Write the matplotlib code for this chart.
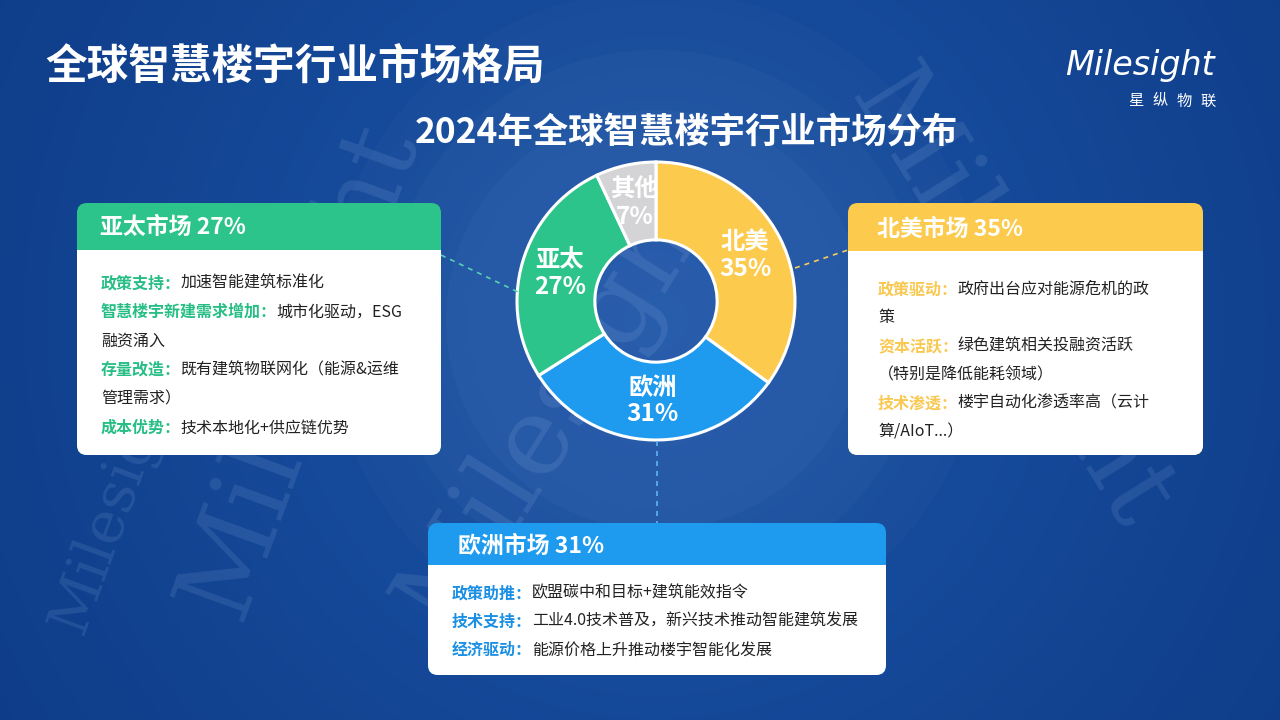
import matplotlib
matplotlib.use('Agg')
import matplotlib.pyplot as plt
from matplotlib.patches import FancyBboxPatch, Rectangle, Circle
import numpy as np

plt.rcParams['font.family'] = ['Noto Sans CJK SC', 'DejaVu Sans']

# ---- data ----
title = '全球智慧楼宇行业市场格局'
subtitle = '2024年全球智慧楼宇行业市场分布'
regions = ['北美', '欧洲', '亚太', '其他']
shares = [35, 31, 27, 7]
colors = ['#FCCA4C', '#1E9BEF', '#2DC48C', '#D4D4D6']

apac_title = '亚太市场 27%'
apac_lines = [('政策支持：', '加速智能建筑标准化'),
              ('智慧楼宇新建需求增加：', '城市化驱动，ESG'),
              ('', '融资涌入'),
              ('存量改造：', '既有建筑物联网化（能源&运维'),
              ('', '管理需求）'),
              ('成本优势：', '技术本地化+供应链优势')]

na_title = '北美市场 35%'
na_lines = [('政策驱动：', '政府出台应对能源危机的政'),
            ('', '策'),
            ('资本活跃：', '绿色建筑相关投融资活跃'),
            ('', '（特别是降低能耗领域）'),
            ('技术渗透：', '楼宇自动化渗透率高（云计'),
            ('', '算/AIoT...）')]

eu_title = '欧洲市场 31%'
eu_lines = [('政策助推：', '欧盟碳中和目标+建筑能效指令'),
            ('技术支持：', '工业4.0技术普及，新兴技术推动智能建筑发展'),
            ('经济驱动：', '能源价格上升推动楼宇智能化发展')]

W, H = 1280, 720


def Y(y):
    # convert screen y (top-down) to axes y
    return H - y


fig = plt.figure(figsize=(12.8, 7.2), dpi=100)
ax = fig.add_axes([0, 0, 1, 1])

# background: radial blue gradient
yy, xx = np.mgrid[0:H, 0:W]
r = np.clip(np.hypot(xx - 656, yy - 320) / 820, 0, 1)
c0 = np.array([0x1b, 0x55, 0xa9]) / 255
c1 = np.array([0x0e, 0x3b, 0x86]) / 255
img = c0 + (c1 - c0) * r[..., None]
ax.imshow(img, extent=[0, W, 0, H], origin='upper', aspect='auto', zorder=0)

# faint halo rings around the chart
for rad, a in [(330, 0.02), (270, 0.025), (210, 0.025)]:
    ax.add_patch(Circle((656, Y(320)), rad, fc='white', ec='none', alpha=a, zorder=0.5))

# watermarks (kept inside the slide)
for (x, y, rot, fs) in [(300, 370, 70, 78), (560, 400, 58, 78), (1010, 300, -58, 78), (115, 500, 70, 42)]:
    ax.text(x, Y(y), 'Milesight', family='DejaVu Serif', fontsize=fs, color='#b8d2f5',
            alpha=0.12, rotation=rot, ha='center', va='center', zorder=0.6)

# titles
ax.text(45, Y(67), title, color='white', fontsize=30, weight='bold', va='center', ha='left', zorder=5)
ax.text(686, Y(133), subtitle, color='white', fontsize=25.5, weight='bold', va='center', ha='center', zorder=5)

# logo
ax.text(1215, Y(66), 'Milesight', color='white', fontsize=24, style='italic', family='DejaVu Sans',
        ha='right', va='center', zorder=5)
for i, ch in enumerate('星纵物联'):
    ax.text(1136 + i * 24, Y(101), ch, color='white', fontsize=11, ha='center', va='center', zorder=5)

# donut
labels = [f'{n}\n{s}%' for n, s in zip(regions, shares)]
ax.pie(shares, labels=labels, colors=colors, startangle=90, counterclock=False,
       center=(656, Y(301)), radius=139, labeldistance=0.72, frame=True,
       wedgeprops=dict(width=0.56 * 139, edgecolor='white', linewidth=2.2),
       textprops=dict(color='white', fontsize=17.5, weight='bold', ha='center', va='center',
                      linespacing=1.15))

# connectors
ax.plot([441, 518], [Y(255), Y(292)], ls=(0, (3, 3)), color='#56d2b4', lw=1.2, zorder=2)
ax.plot([795, 848], [Y(268), Y(250)], ls=(0, (3, 3)), color='#f5cd5a', lw=1.2, zorder=2)
ax.plot([657, 657], [Y(441), Y(523)], ls=(0, (3, 3)), color='#5fb4f0', lw=1.2, zorder=2)

BODY_FS = 11.5
FS_PX = BODY_FS * 100 / 72


def card(x0, y0, x1, y1, hdr, color, head, lab_color, lines, tx, ty0, dy, head_x, head_y):
    w, h = x1 - x0, y1 - y0
    ax.add_patch(FancyBboxPatch((x0, Y(y1)), w, h, boxstyle='round,pad=0,rounding_size=10',
                                fc=color, ec='none', zorder=3))
    ax.add_patch(FancyBboxPatch((x0, Y(y1)), w, y1 - hdr, boxstyle='round,pad=0,rounding_size=10',
                                fc='white', ec='none', zorder=3.1))
    ax.add_patch(Rectangle((x0, Y(hdr)), w, -12, fc='white', ec='none', zorder=3.2))
    ax.text(head_x, Y(head_y), head, color='white', fontsize=16.5, weight='bold',
            ha='left', va='center', zorder=4)
    for i, (lab, txt) in enumerate(lines):
        yy_ = Y(ty0 + i * dy)
        x = tx
        if lab:
            ax.text(x, yy_, lab, color=lab_color, fontsize=BODY_FS, weight='bold',
                    ha='left', va='center', zorder=4)
            x += len(lab) * FS_PX
        ax.text(x, yy_, txt, color='#222222', fontsize=BODY_FS, ha='left', va='center', zorder=4)


card(77, 203, 441, 455, 250, '#2DC48C', apac_title, '#27BE86', apac_lines, 101, 283, 29, 100, 228)
card(848, 203, 1203, 455, 251, '#FCCA4C', na_title, '#F8C850', na_lines, 878, 289, 28.6, 877, 229)
card(428, 523, 886, 675, 565, '#1E9BEF', eu_title, '#1A8FE3', eu_lines, 452, 593, 28.5, 458, 546)

ax.set_xlim(0, W)
ax.set_ylim(0, H)
ax.set_aspect('auto')
ax.axis('off')

fig.savefig('out.png', dpi=100)
